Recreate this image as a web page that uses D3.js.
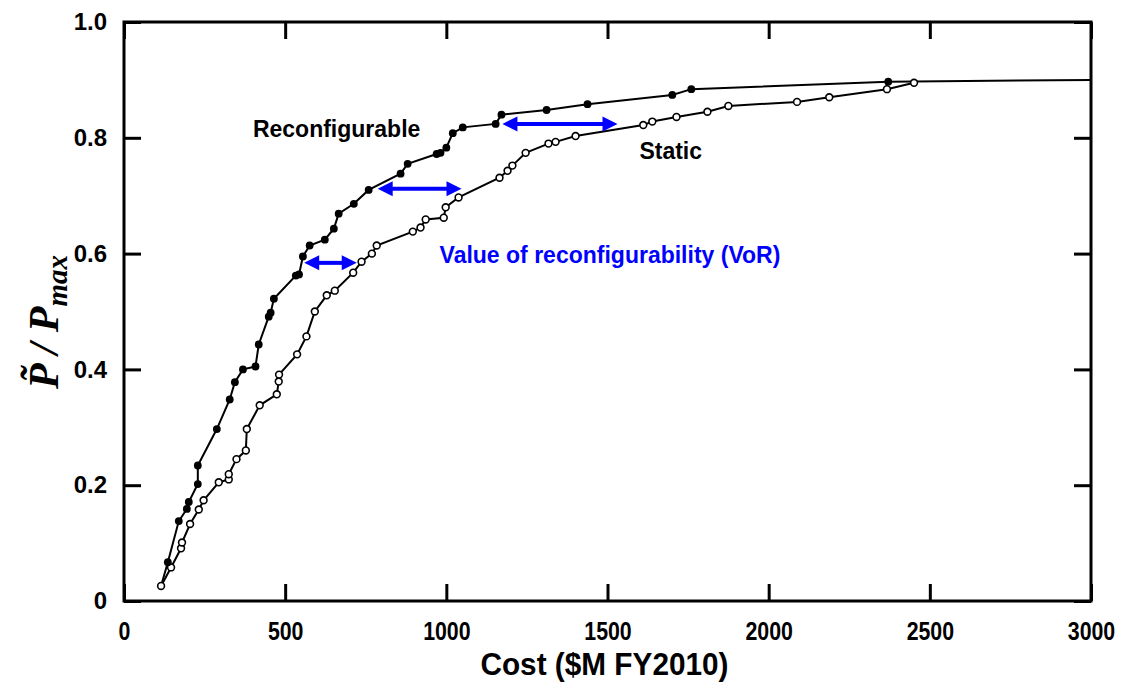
<!DOCTYPE html>
<html>
<head>
<meta charset="utf-8">
<script src="https://cdn.jsdelivr.net/npm/d3@7"></script>
<style>
  body { margin: 0; background: #fff; }
  svg { display: block; }
</style>
</head>
<body>
<div id="chart"></div>
<script>
// data
const reconfigurable = [
  [115, 0.026], [136, 0.067], [170, 0.138], [195, 0.159], [201, 0.171],
  [229, 0.202], [229, 0.234], [288, 0.297], [328, 0.348], [344, 0.378],
  [369, 0.400], [408, 0.405], [418, 0.443], [449, 0.491], [455, 0.498],
  [465, 0.522], [533, 0.562], [543, 0.564], [555, 0.595], [576, 0.614],
  [623, 0.624], [651, 0.643], [666, 0.669], [713, 0.686], [759, 0.710],
  [858, 0.738], [880, 0.755], [970, 0.772], [982, 0.774], [1000, 0.783],
  [1020, 0.808], [1051, 0.818], [1153, 0.824], [1171, 0.840], [1311, 0.848],
  [1438, 0.858], [1701, 0.874], [1760, 0.884], [2371, 0.897]
];
const staticSeries = [
  [115, 0.026], [146, 0.058], [177, 0.091], [180, 0.101], [205, 0.133],
  [232, 0.158], [247, 0.174], [294, 0.205], [325, 0.210], [325, 0.219],
  [349, 0.245], [378, 0.260], [381, 0.297], [421, 0.338], [474, 0.357],
  [480, 0.379], [481, 0.391], [537, 0.426], [566, 0.457], [592, 0.500],
  [629, 0.528], [654, 0.536], [711, 0.567], [737, 0.586], [769, 0.600],
  [784, 0.614], [896, 0.638], [920, 0.645], [936, 0.659], [992, 0.662],
  [998, 0.680], [1038, 0.697], [1165, 0.731], [1190, 0.743], [1205, 0.752],
  [1246, 0.774], [1317, 0.790], [1339, 0.793], [1401, 0.803], [1611, 0.822],
  [1639, 0.828], [1714, 0.836], [1810, 0.845], [1875, 0.855], [2088, 0.862],
  [2188, 0.870], [2367, 0.884], [2451, 0.895]
];
const plateau = [[2371, 0.897], [3000, 0.900]];
// VoR arrows: [x from, x to, y]
const vorArrows = [[559, 722, 0.584], [787, 1047, 0.712], [1174, 1531, 0.824]];
const xTicks = [0, 500, 1000, 1500, 2000, 2500, 3000];
const yTicks = [0, 0.2, 0.4, 0.6, 0.8, 1.0];
const labels = [
  { text: "Reconfigurable", x: 400, y: 0.812, color: "#000" },
  { text: "Static", x: 1599, y: 0.774, color: "#000" },
  { text: "Value of reconfigurability (VoR)", x: 979, y: 0.595, color: "#0000ff" }
];

const W = 1125, H = 686;
const margin = { top: 22, right: 34, bottom: 85, left: 124 };
const width = W - margin.left - margin.right;
const height = H - margin.top - margin.bottom;

const svg = d3.select("#chart").append("svg")
  .attr("width", W).attr("height", H);
const g = svg.append("g")
  .attr("transform", `translate(${margin.left},${margin.top})`);

const x = d3.scaleLinear().domain([0, 3000]).range([0, width]);
const y = d3.scaleLinear().domain([0, 1]).range([height, 0]);

const tickLen = 17;
const sans = "'Liberation Sans', Arial, sans-serif";

// squeeze text horizontally to mimic the condensed face
const condense = (sel, k) => sel.each(function () {
  const w = this.getComputedTextLength();
  d3.select(this).attr("textLength", w * k).attr("lengthAdjust", "spacingAndGlyphs");
});

// axes (ticks inward on all four sides)
const styleAxis = (sel) => {
  sel.select(".domain").remove();
  sel.selectAll(".tick line").attr("stroke", "#000").attr("stroke-width", 3);
};
const xb = g.append("g").attr("transform", `translate(0,${height})`)
  .call(d3.axisBottom(x).tickValues(xTicks).tickSize(-tickLen).tickPadding(21).tickFormat(d3.format("d")));
styleAxis(xb);
xb.selectAll("text").style("font-family", sans)
  .style("font-weight", "bold").style("font-size", "26px").attr("fill", "#000")
  .call(condense, 0.82);
const xt = g.append("g")
  .call(d3.axisTop(x).tickValues(xTicks).tickSize(-tickLen).tickFormat(""));
styleAxis(xt);
const yl = g.append("g")
  .call(d3.axisLeft(y).tickValues(yTicks).tickSize(-tickLen).tickPadding(17)
    .tickFormat(d => d === 0 ? "0" : d3.format(".1f")(d)));
styleAxis(yl);
yl.selectAll("text").style("font-family", sans)
  .style("font-weight", "bold").style("font-size", "24px").attr("fill", "#000");
const yr = g.append("g").attr("transform", `translate(${width},0)`)
  .call(d3.axisRight(y).tickValues(yTicks).tickSize(-tickLen).tickFormat(""));
styleAxis(yr);

g.append("rect")
  .attr("width", width).attr("height", height)
  .attr("fill", "none").attr("stroke", "#000").attr("stroke-width", 3);

// series
const line = d3.line().x(d => x(d[0])).y(d => y(d[1]));
g.append("path").datum(plateau).attr("d", line)
  .attr("fill", "none").attr("stroke", "#000").attr("stroke-width", 2);
g.append("path").datum(staticSeries).attr("d", line)
  .attr("fill", "none").attr("stroke", "#000").attr("stroke-width", 2);
g.append("path").datum(reconfigurable).attr("d", line)
  .attr("fill", "none").attr("stroke", "#000").attr("stroke-width", 2);

g.selectAll(".open").data(staticSeries).join("circle")
  .attr("class", "open")
  .attr("cx", d => x(d[0])).attr("cy", d => y(d[1])).attr("r", 3.4)
  .attr("fill", "#fff").attr("stroke", "#000").attr("stroke-width", 1.6);
g.selectAll(".filled").data(reconfigurable.slice(1)).join("circle")
  .attr("class", "filled")
  .attr("cx", d => x(d[0])).attr("cy", d => y(d[1])).attr("r", 3.9)
  .attr("fill", "#000");

// VoR arrows
const blue = "#0000ff";
const headL = 15, headH = 7.5;
vorArrows.forEach(([a, b, v]) => {
  const x1 = x(a), x2 = x(b), yy = y(v);
  g.append("line")
    .attr("x1", x1 + headL - 2).attr("x2", x2 - headL + 2)
    .attr("y1", yy).attr("y2", yy)
    .attr("stroke", blue).attr("stroke-width", 4);
  g.append("path")
    .attr("d", `M${x1},${yy}L${x1 + headL},${yy - headH}L${x1 + headL},${yy + headH}Z`)
    .attr("fill", blue);
  g.append("path")
    .attr("d", `M${x2},${yy}L${x2 - headL},${yy - headH}L${x2 - headL},${yy + headH}Z`)
    .attr("fill", blue);
});

// annotations
g.selectAll(".note").data(labels).join("text")
  .attr("class", "note")
  .attr("x", d => x(d.x)).attr("y", d => y(d.y))
  .attr("dominant-baseline", "middle")
  .attr("fill", d => d.color)
  .style("font-family", sans)
  .style("font-weight", "bold").style("font-size", "23px")
  .text(d => d.text);

// axis titles
g.append("text")
  .attr("x", width / 2 - 3).attr("y", height + 74)
  .attr("text-anchor", "middle")
  .style("font-family", sans)
  .style("font-weight", "bold").style("font-size", "32px")
  .text("Cost ($M FY2010)")
  .call(condense, 0.93);

const yt = svg.append("text")
  .attr("transform", `translate(58,${margin.top + 300}) rotate(-90)`)
  .attr("text-anchor", "middle")
  .style("font-family", "'Liberation Serif', 'DejaVu Serif', serif")
  .style("font-weight", "bold").style("font-style", "italic").style("font-size", "42px");
yt.append("tspan").text("P\u0303");
yt.append("tspan").text(" / P");
yt.append("tspan").attr("dy", 9).style("font-size", "29px").text("max");
</script>
</body>
</html>
